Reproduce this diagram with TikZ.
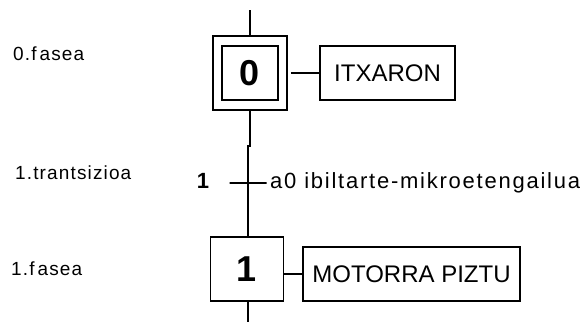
\documentclass[tikz,border=0pt]{standalone}
\usepackage{fontspec}
\setmainfont{Liberation Sans}
\newfontfamily\trk[LetterSpace=6]{Liberation Sans}
\newfontfamily\trkw[LetterSpace=8]{Liberation Sans}
\usetikzlibrary{calc,positioning}
\tikzset{ln/.style={line width=1.8pt},
  stp/.style={draw, line width=1.8pt, inner sep=0pt, font=\bfseries\fontsize{36}{36}\selectfont},
  act/.style={draw, line width=1.8pt, inner sep=0pt, font=\fontsize{24}{24}\selectfont},
  lbl/.style={inner sep=0pt, anchor=base west, font=\trk\fontsize{19}{19}\selectfont}}

\begin{document}
\begin{tikzpicture}[x=1pt, y=-1pt]
  \useasboundingbox (0,0) rectangle (581,322);
  % step 0 (initial)
  \coordinate (top) at (250,10);
  \node[stp, minimum width=74pt, minimum height=74pt] (s0) at (250,73) {};
  \node[stp, minimum width=56pt, minimum height=54pt] (s0in) at (250,73) {0};
  \node[act, minimum width=135pt, minimum height=54pt] (a0) at (387.5,73) {ITXARON};
  \draw[ln] (top) -- (s0.north);
  \draw[ln, shorten <=3pt] (s0.east |- a0.west) -- (a0.west);
  % transition 1
  \node[draw, line width=1.8pt, inner sep=0pt, minimum width=37pt, minimum height=0pt] (t1) at (248,183) {};
  \node[inner sep=0pt, anchor=base, font=\bfseries\fontsize{22}{22}\selectfont] (t1num) at (203,188) {1};
  \node[inner sep=0pt, anchor=base west, font=\trkw\fontsize{22}{22}\selectfont] (t1txt) at (270,188.5) {a0 ibiltarte-mikroetengailua};
  % step 1
  \node[stp, minimum width=73pt, minimum height=64pt] (s1) at (247,269) {1};
  \node[act, minimum width=217pt, minimum height=54pt] (a1) at (411.5,274) {MOTORRA PIZTU};
  \coordinate (bot) at (248,322);
  \draw[ln] (s0.south) -- ++(0,35) -| (t1.center) -- (s1.north -| t1.center);
  \draw[ln] (s1.east |- a1.west) -- (a1.west);
  \draw[ln] (s1.south -| bot) -- (bot);
  % side labels
  \node[lbl] (l0) at (13,60.5) {0.f\kern3pt asea};
  \node[lbl] (l1) at (15,179.5) {1.trantsizioa};
  \node[lbl] (l2) at (11,275) {1.f\kern3pt asea};
\end{tikzpicture}
\end{document}
